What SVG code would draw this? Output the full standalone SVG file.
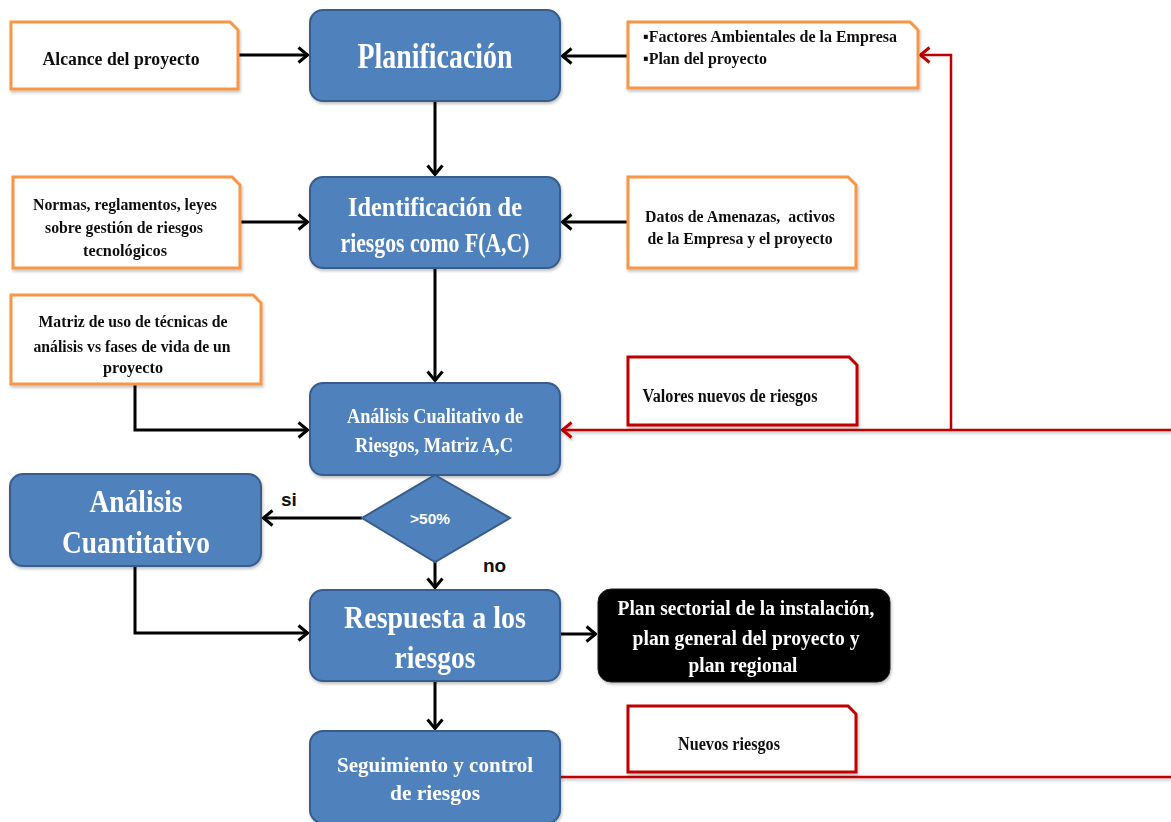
<svg xmlns="http://www.w3.org/2000/svg" width="1171" height="822" viewBox="0 0 1171 822">
  <defs>
    <style>
      .box { fill: #4F81BD; stroke: #385D8A; stroke-width: 2; }
      .dark { fill: #000000; stroke: #222222; stroke-width: 1; }
      .note { fill: #FFFFFF; stroke: #F79646; stroke-width: 3; }
      .rnote { fill: #FFFFFF; stroke: #C00000; stroke-width: 3; }
      .t { font-family: "Liberation Serif", "Times New Roman", serif; font-weight: bold; text-anchor: middle; }
      .w { fill: #FFFFFF; }
      .k { fill: #111111; }
      .a { font-family: "Liberation Sans", Arial, sans-serif; font-weight: bold; }
      .line { fill: none; stroke: #000000; stroke-width: 3; }
      .red { fill: none; stroke: #C00000; stroke-width: 2.5; }
    </style>
    <marker id="arr" viewBox="0 0 12 18" refX="11" refY="9" markerWidth="12" markerHeight="18" markerUnits="userSpaceOnUse" orient="auto">
      <path d="M1.5,1.5 L10.5,9 L1.5,16.5" fill="none" stroke="#000000" stroke-width="3"/>
    </marker>
    <marker id="arrRed" viewBox="0 0 12 18" refX="11" refY="9" markerWidth="12" markerHeight="18" markerUnits="userSpaceOnUse" orient="auto">
      <path d="M1.5,1.5 L10.5,9 L1.5,16.5" fill="none" stroke="#C00000" stroke-width="3"/>
    </marker>
    <filter id="sh" x="-5%" y="-5%" width="115%" height="125%">
      <feDropShadow dx="1" dy="2" stdDeviation="1.5" flood-color="#000000" flood-opacity="0.25"/>
    </filter>
  </defs>

  <rect width="1171" height="822" fill="#FFFFFF"/>

  <!-- connectors -->
  <g id="connectors">
    <path class="line" d="M238,55 L308,55" marker-end="url(#arr)"/>
    <path class="line" d="M628,56 L562,56" marker-end="url(#arr)"/>
    <path class="line" d="M435,101 L435,175" marker-end="url(#arr)"/>
    <path class="line" d="M240,222 L308,222" marker-end="url(#arr)"/>
    <path class="line" d="M628,222 L562,222" marker-end="url(#arr)"/>
    <path class="line" d="M435,268 L435,381" marker-end="url(#arr)"/>
    <path class="line" d="M135,384 L135,430 L308,430" marker-end="url(#arr)"/>
    <path class="line" d="M362,518 L263,518" marker-end="url(#arr)"/>
    <path class="line" d="M435,562 L435,588" marker-end="url(#arr)"/>
    <path class="line" d="M135,566 L135,633 L308,633" marker-end="url(#arr)"/>
    <path class="line" d="M560,634 L596,634" marker-end="url(#arr)"/>
    <path class="line" d="M435,681 L435,729" marker-end="url(#arr)"/>
    <g filter="url(#sh)">
      <path class="red" d="M1171,430 L562,430" stroke-width="3" marker-end="url(#arrRed)"/>
      <path class="red" d="M560,777 L1171,777" stroke-width="3"/>
    </g>
    <path class="red" d="M951,430 L951,55 L920,55" marker-end="url(#arrRed)"/>
  </g>

  <!-- input notes -->
  <g id="note-alcance" filter="url(#sh)">
    <path class="note" d="M11,22 H230 L238,30 V89 H11 Z"/>
    <text class="t k" x="121" y="65" font-size="18" textLength="157" lengthAdjust="spacingAndGlyphs">Alcance del proyecto</text>
  </g>

  <g id="note-factores" filter="url(#sh)">
    <path class="note" d="M628,22 H910 L918,30 V88 H628 Z"/>
    <text class="k" x="643" y="42" font-family="Liberation Serif, serif" font-weight="bold" font-size="17" textLength="254" lengthAdjust="spacingAndGlyphs">▪Factores Ambientales de la Empresa</text>
    <text class="k" x="643" y="64" font-family="Liberation Serif, serif" font-weight="bold" font-size="17" textLength="124" lengthAdjust="spacingAndGlyphs">▪Plan del proyecto</text>
  </g>

  <g id="note-normas" filter="url(#sh)">
    <path class="note" d="M13,177 H232 L240,185 V268 H13 Z"/>
    <text class="t k" x="125" y="210" font-size="17" textLength="184" lengthAdjust="spacingAndGlyphs">Normas, reglamentos, leyes</text>
    <text class="t k" x="124" y="233" font-size="17" textLength="158" lengthAdjust="spacingAndGlyphs">sobre gestión de riesgos</text>
    <text class="t k" x="125" y="256" font-size="17" textLength="84" lengthAdjust="spacingAndGlyphs">tecnológicos</text>
  </g>

  <g id="note-datos" filter="url(#sh)">
    <path class="note" d="M628,177 H848 L856,185 V268 H628 Z"/>
    <text class="t k" x="740" y="222" font-size="17" textLength="190" lengthAdjust="spacingAndGlyphs" xml:space="preserve">Datos de Amenazas,  activos</text>
    <text class="t k" x="740" y="244" font-size="17" textLength="185" lengthAdjust="spacingAndGlyphs">de la Empresa y el proyecto</text>
  </g>

  <g id="note-matriz" filter="url(#sh)">
    <path class="note" d="M11,295 H253 L261,303 V384 H11 Z"/>
    <text class="t k" x="133" y="327" font-size="17" textLength="189" lengthAdjust="spacingAndGlyphs">Matriz de uso de técnicas de</text>
    <text class="t k" x="132" y="352" font-size="17" textLength="197" lengthAdjust="spacingAndGlyphs">análisis vs fases de vida de un</text>
    <text class="t k" x="133" y="373" font-size="17" textLength="60" lengthAdjust="spacingAndGlyphs">proyecto</text>
  </g>

  <g id="note-valores" filter="url(#sh)">
    <path class="rnote" d="M628,357 H849 L857,365 V425 H628 Z"/>
    <text class="t k" x="730" y="402" font-size="18" textLength="175" lengthAdjust="spacingAndGlyphs">Valores nuevos de riesgos</text>
  </g>

  <g id="note-nuevos" filter="url(#sh)">
    <path class="rnote" d="M628,706 H848 L856,714 V772 H628 Z"/>
    <text class="t k" x="729" y="750" font-size="18" textLength="102" lengthAdjust="spacingAndGlyphs">Nuevos riesgos</text>
  </g>

  <!-- process steps -->
  <g id="planificacion" filter="url(#sh)">
    <rect class="box" x="310" y="10" width="250" height="91" rx="13"/>
    <text class="t w" x="435" y="68" font-size="35" textLength="155" lengthAdjust="spacingAndGlyphs">Planificación</text>
  </g>

  <g id="identificacion" filter="url(#sh)">
    <rect class="box" x="310" y="177" width="250" height="91" rx="13"/>
    <text class="t w" x="435" y="216" font-size="27" textLength="174" lengthAdjust="spacingAndGlyphs">Identificación de</text>
    <text class="t w" x="435" y="252" font-size="27" textLength="189" lengthAdjust="spacingAndGlyphs">riesgos como F(A,C)</text>
  </g>

  <g id="cualitativo" filter="url(#sh)">
    <rect class="box" x="310" y="383" width="250" height="92" rx="13"/>
    <text class="t w" x="435" y="423" font-size="21" textLength="176" lengthAdjust="spacingAndGlyphs">Análisis Cualitativo de</text>
    <text class="t w" x="434" y="452" font-size="21" textLength="158" lengthAdjust="spacingAndGlyphs">Riesgos, Matriz A,C</text>
  </g>

  <g id="decision">
    <path class="box" d="M435,475 L510,518 L435,562 L362,518 Z" stroke-width="1.5"/>
    <text class="a w" x="430" y="524" font-size="15" text-anchor="middle" textLength="40" lengthAdjust="spacingAndGlyphs">&gt;50%</text>
  </g>

  <g id="label-si">
    <text class="a k" x="281" y="506" font-size="19">si</text>
  </g>
  <g id="label-no">
    <text class="a k" x="483" y="572" font-size="19">no</text>
  </g>

  <g id="cuantitativo" filter="url(#sh)">
    <rect class="box" x="10" y="474" width="251" height="92" rx="13"/>
    <text class="t w" x="136" y="512" font-size="31" textLength="93" lengthAdjust="spacingAndGlyphs">Análisis</text>
    <text class="t w" x="136" y="553" font-size="31" textLength="148" lengthAdjust="spacingAndGlyphs">Cuantitativo</text>
  </g>

  <g id="respuesta" filter="url(#sh)">
    <rect class="box" x="310" y="590" width="250" height="91" rx="13"/>
    <text class="t w" x="435" y="628" font-size="31" textLength="182" lengthAdjust="spacingAndGlyphs">Respuesta a los</text>
    <text class="t w" x="435" y="668" font-size="31" textLength="81" lengthAdjust="spacingAndGlyphs">riesgos</text>
  </g>

  <g id="planes" filter="url(#sh)">
    <rect class="dark" x="598" y="589" width="292" height="93" rx="13"/>
    <text class="t w" x="746" y="615" font-size="20" textLength="257" lengthAdjust="spacingAndGlyphs">Plan sectorial de la instalación,</text>
    <text class="t w" x="746" y="645" font-size="20" textLength="227" lengthAdjust="spacingAndGlyphs">plan general del proyecto y</text>
    <text class="t w" x="743" y="672" font-size="20" textLength="109" lengthAdjust="spacingAndGlyphs">plan regional</text>
  </g>

  <g id="seguimiento" filter="url(#sh)">
    <rect class="box" x="310" y="731" width="250" height="92" rx="13"/>
    <text class="t w" x="435" y="772" font-size="22" textLength="196" lengthAdjust="spacingAndGlyphs">Seguimiento y control</text>
    <text class="t w" x="435" y="800" font-size="22" textLength="90" lengthAdjust="spacingAndGlyphs">de riesgos</text>
  </g>
</svg>
